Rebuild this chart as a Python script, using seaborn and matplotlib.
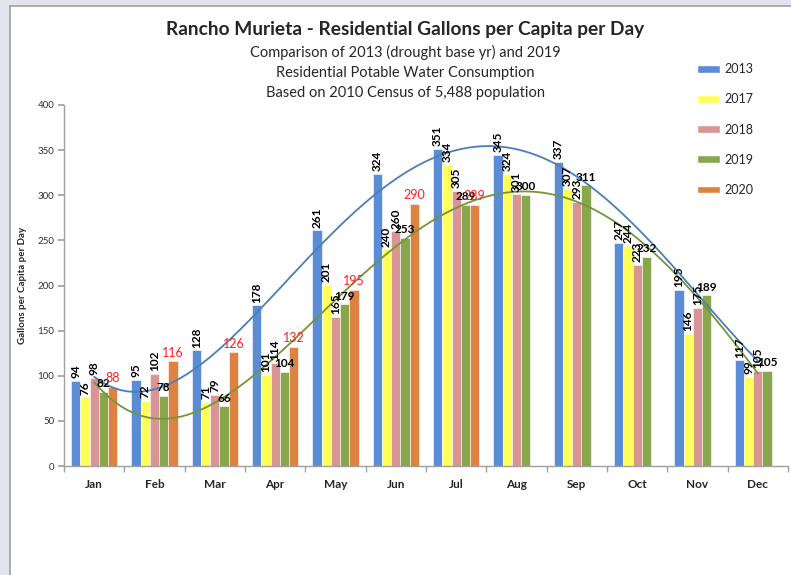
import numpy as np
import pandas as pd
import seaborn as sns
import matplotlib.pyplot as plt
from matplotlib.patches import Rectangle, Patch

# monthly residential gallons per capita per day
months = ['Jan', 'Feb', 'Mar', 'Apr', 'May', 'Jun', 'Jul', 'Aug', 'Sep', 'Oct', 'Nov', 'Dec']
years = ['2013', '2017', '2018', '2019', '2020']
gpcd_2013 = [94, 95, 128, 178, 261, 324, 351, 345, 337, 247, 195, 117]
gpcd_2017 = [76, 72, 71, 101, 201, 240, 334, 324, 307, 244, 146, 99]
gpcd_2018 = [98, 102, 79, 114, 165, 260, 305, 301, 293, 223, 175, 105]
gpcd_2019 = [82, 78, 66, 104, 179, 253, 289, 300, 311, 232, 189, 105]
gpcd_2020 = [88, 116, 126, 132, 195, 290, 289, np.nan, np.nan, np.nan, np.nan, np.nan]

colors = {'2013': '#5A8DD5', '2017': '#FFFF5A', '2018': '#D99594',
          '2019': '#88A64C', '2020': '#DD8240'}

sns.set_theme(style='white')
plt.rcParams['font.family'] = ['Lato', 'DejaVu Sans']

df = pd.DataFrame({
    'Month': months * 5,
    'Year': np.repeat(years, 12),
    'GPCD': np.concatenate([gpcd_2013, gpcd_2017, gpcd_2018, gpcd_2019, gpcd_2020]),
})

fig = plt.figure(figsize=(7.91, 5.75), dpi=100, facecolor='#E4E4EE')
fig.patches.append(Rectangle((10 / 791, -0.05), 1.0, 1.05 - 6 / 575, transform=fig.transFigure,
                             facecolor='white', edgecolor='#A0A0A0', lw=1.2, zorder=-10))
ax = fig.add_axes([64 / 791, 1 - 466 / 575, 724 / 791, 361 / 575])
ax.set_facecolor('none')

sns.barplot(data=df, x='Month', y='GPCD', hue='Year', hue_order=years, palette=colors,
            saturation=1, width=0.77, errorbar=None, legend=False, ax=ax,
            edgecolor='#FFFFFF', linewidth=0.4)

# trendlines (polynomial fit like the spreadsheet)
sns.regplot(x=np.arange(12), y=gpcd_2013, order=4, ci=None, scatter=False, ax=ax,
            line_kws={'color': '#4A7EBB', 'lw': 1.3})
sns.regplot(x=np.arange(12), y=gpcd_2019, order=4, ci=None, scatter=False, ax=ax,
            line_kws={'color': '#77933C', 'lw': 1.3})

styles = {'2013': (90, 'black', 'bold', 8.5), '2017': (90, 'black', 'bold', 8.5),
          '2018': (90, 'black', 'bold', 8.5), '2019': (0, 'black', 'bold', 8.5),
          '2020': (0, '#FF2020', 'normal', 9)}
for year, cont in zip(years, ax.containers):
    rot, col, wt, fs = styles[year]
    ax.bar_label(cont, fmt='%d', rotation=rot, color=col, fontweight=wt, fontsize=fs, padding=2)

ax.set_xlim(-0.5, 11.5)
ax.set_ylim(0, 400)
ax.set_yticks(np.arange(0, 401, 50))
ax.set_xticks(np.arange(-0.5, 12, 1), minor=True)
ax.tick_params(axis='y', left=True, length=4, color='#A0A0A0', labelsize=7, labelcolor='#303030', pad=3)
ax.tick_params(axis='x', which='major', bottom=False, labelsize=8.5, pad=3)
ax.tick_params(axis='x', which='minor', bottom=True, length=4, color='#A0A0A0')
for lab in ax.get_xticklabels():
    lab.set_fontweight('bold')
for s in ['top', 'right']:
    ax.spines[s].set_visible(False)
for s in ['left', 'bottom']:
    ax.spines[s].set_color('#A0A0A0')
    ax.spines[s].set_linewidth(1)

ax.set_xlabel('')
ax.set_ylabel('Gallons per Capita per Day', fontsize=7, fontweight='bold')
ax.yaxis.set_label_coords(-0.051, 0.5)

fig.text(405 / 791, 1 - 30 / 575, 'Rancho Murieta - Residential Gallons per Capita per Day',
         ha='center', va='center', fontsize=13.8, fontweight='bold')
fig.text(405 / 791, 1 - 52 / 575, 'Comparison of 2013 (drought base yr) and 2019',
         ha='center', va='center', fontsize=10.5)
fig.text(405 / 791, 1 - 73 / 575, 'Residential Potable Water Consumption',
         ha='center', va='center', fontsize=10.5)
fig.text(405 / 791, 1 - 93 / 575, 'Based on 2010 Census of 5,488 population',
         ha='center', va='center', fontsize=10.5)

handles = [Patch(facecolor=colors[y], edgecolor='#FFFFFF', label=y) for y in years]
fig.legend(handles=handles, loc='upper left', bbox_to_anchor=(686 / 791, 1 - 52 / 575),
           frameon=False, fontsize=9, handlelength=1.8, handleheight=0.55,
           handletextpad=0.35, labelspacing=1.45)

fig.savefig('out.png', dpi=100, facecolor=fig.get_facecolor())
